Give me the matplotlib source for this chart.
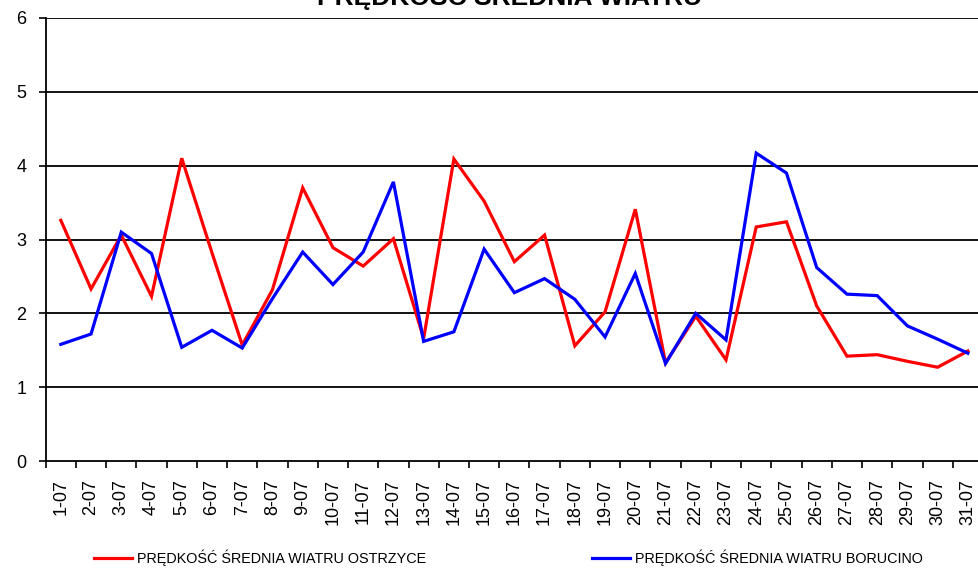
import matplotlib
matplotlib.use("Agg")
import matplotlib.pyplot as plt
from matplotlib.lines import Line2D
import numpy as np

days = [f"{d}-07" for d in range(1, 32)]
ostrzyce = [3.26, 2.33, 3.06, 2.23, 4.10, 2.82, 1.57, 2.32, 3.70, 2.89,
            2.64, 3.01, 1.66, 4.09, 3.52, 2.70, 3.06, 1.56, 2.02, 3.41,
            1.33, 1.96, 1.37, 3.17, 3.24, 2.10, 1.42, 1.44, 1.35, 1.27, 1.49]
borucino = [1.58, 1.72, 3.10, 2.81, 1.54, 1.77, 1.53, 2.20, 2.83, 2.39,
            2.83, 3.78, 1.62, 1.75, 2.87, 2.28, 2.47, 2.19, 1.68, 2.54,
            1.32, 2.00, 1.64, 4.17, 3.90, 2.62, 2.26, 2.24, 1.83, 1.65, 1.46]
title = "PRĘDKOŚĆ ŚREDNIA WIATRU"
label_o = "PRĘDKOŚĆ ŚREDNIA WIATRU OSTRZYCE"
label_b = "PRĘDKOŚĆ ŚREDNIA WIATRU BORUCINO"
yticks = [0, 1, 2, 3, 4, 5, 6]

plt.rcParams['font.family'] = ['Liberation Sans', 'DejaVu Sans']

W, H = 979, 568
fig = plt.figure(figsize=(W / 100, H / 100), dpi=100)
left, right, top, bottom = 45.7, 983.0, 18.0, 461.0
ax = fig.add_axes([left / W, 1 - bottom / H, (right - left) / W, (bottom - top) / H])

x = np.arange(len(days))
ax.plot(x, ostrzyce, color='#ff0000', lw=2.3, solid_joinstyle='miter', zorder=3)
ax.plot(x, borucino, color='#0000ff', lw=2.3, solid_joinstyle='miter', zorder=3)

ax.set_xlim(-0.5, len(days) - 0.5)
ax.set_ylim(0, 6)
ax.set_yticks(yticks)
ax.set_yticklabels([str(v) for v in yticks], fontsize=13)
for v in yticks[1:]:
    ax.axhline(v, color='black', lw=1.3, zorder=1)

ax.set_xticks(x)
ax.set_xticklabels(days, rotation=90, fontsize=13, va='top')
ax.set_xticks(np.arange(-0.5, len(days) + 0.5, 1), minor=True)
ax.tick_params(axis='x', which='major', length=0, pad=13)
ax.tick_params(axis='x', which='minor', length=5, width=1.2, direction='out', color='black')
ax.tick_params(axis='y', length=5, width=1.2, direction='out', pad=9)

for s in ['top', 'right']:
    ax.spines[s].set_visible(False)
for s in ['left', 'bottom']:
    ax.spines[s].set_linewidth(1.3)
    ax.spines[s].set_color('black')

fig.text(510 / W, 1 - 4.5 / H, title, ha='center', va='baseline',
         fontsize=19, fontweight='bold')

h_o = Line2D([], [], color='#ff0000', lw=2.3)
h_b = Line2D([], [], color='#0000ff', lw=2.3)
for h, lab, xs in [(h_o, label_o, 94), (h_b, label_b, 592)]:
    fig.legend([h], [lab], loc='center left', bbox_to_anchor=(xs / W, 1 - 558 / H),
               frameon=False, fontsize=10.4, handlelength=2.6, handletextpad=0.35,
               borderpad=0, borderaxespad=0)

fig.savefig('out.png', dpi=100)
